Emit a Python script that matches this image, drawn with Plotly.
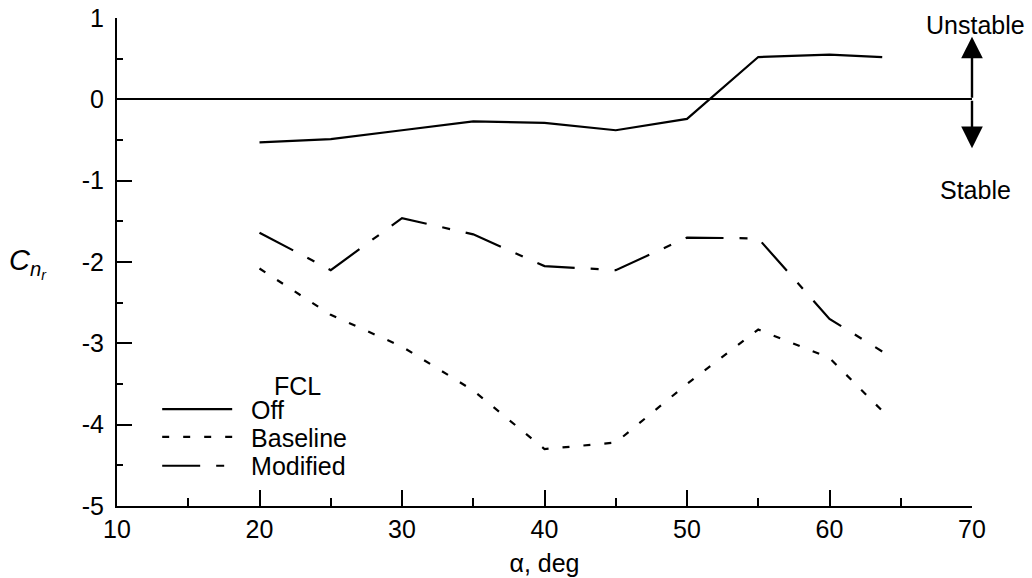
import plotly.graph_objects as go

# Angle of attack, deg
alpha = [20, 25, 30, 35, 40, 45, 50, 55, 60, 63.7]

# Yaw damping derivative Cn_r for each FCL configuration
cnr_off = [-0.53, -0.49, -0.38, -0.27, -0.29, -0.38, -0.24, 0.52, 0.55, 0.52]
cnr_baseline = [-2.08, -2.65, -3.04, -3.58, -4.30, -4.22, -3.50, -2.83, -3.18, -3.83]
cnr_modified = [-1.64, -2.10, -1.46, -1.66, -2.05, -2.10, -1.70, -1.71, -2.70, -3.10]

x_ticks = [10, 20, 30, 40, 50, 60, 70]
y_ticks = [1, 0, -1, -2, -3, -4, -5]
y_tick_text = ["1", "0", "-1", "-2", "-3", "-4", "-5"]

FONT = "Liberation Sans, Arial, Helvetica, sans-serif"
LW = 2.2
PAD = "\u00a0\u00a0"  # gap between legend sample and label

fig = go.Figure()
fig.add_trace(go.Scatter(x=alpha, y=cnr_off, mode="lines", name=PAD + "Off",
                         legend="legend",
                         line=dict(color="black", width=LW)))
fig.add_trace(go.Scatter(x=alpha, y=cnr_baseline, mode="lines", name=PAD + "Baseline",
                         legend="legend2",
                         line=dict(color="black", width=LW, dash="7px,14px")))
fig.add_trace(go.Scatter(x=alpha, y=cnr_modified, mode="lines", name=PAD + "Modified",
                         legend="legend3",
                         line=dict(color="black", width=LW, dash="38px,16px,8px,16px")))

axis_common = dict(
    showline=True, linecolor="black", linewidth=2, mirror=False,
    showgrid=False, ticks="inside", tickcolor="black", tickwidth=2,
    tickfont=dict(family=FONT, size=25, color="black"), automargin=False,
)

fig.update_xaxes(
    range=[10, 70], tickvals=x_ticks, ticklen=16, zeroline=False,
    minor=dict(dtick=5, tick0=10, ticks="inside", ticklen=8, tickwidth=2, tickcolor="black"),
    title=dict(text="\u03b1, deg", font=dict(family=FONT, size=25, color="black"), standoff=12),
    **axis_common,
)
fig.update_yaxes(
    range=[-5, 1], tickvals=y_ticks, ticktext=y_tick_text, ticklen=15, ticklabelstandoff=6,
    zeroline=True, zerolinecolor="black", zerolinewidth=1.6,
    minor=dict(dtick=0.5, tick0=0, ticks="inside", ticklen=6, tickwidth=2, tickcolor="black"),
    **axis_common,
)

# Stability direction arrows at the right end of the zero line
for tip in (0.77, -0.60):
    fig.add_annotation(x=70, y=tip, ax=70, ay=0, xref="x", yref="y", axref="x", ayref="y",
                       text="", showarrow=True, arrowhead=2, arrowsize=1.8, arrowwidth=2.4,
                       arrowcolor="black", standoff=0, startstandoff=0)
fig.add_annotation(x=1.004, y=0.985, xref="paper", yref="paper", text="Unstable",
                   showarrow=False, xanchor="center", yanchor="middle",
                   font=dict(family=FONT, size=25, color="black"))
fig.add_annotation(x=1.004, y=-1.12, xref="paper", yref="y", text="Stable",
                   showarrow=False, xanchor="center", yanchor="middle",
                   font=dict(family=FONT, size=25, color="black"))

# Legend heading
fig.add_annotation(x=22.7, y=-3.52, xref="x", yref="y", text="FCL", showarrow=False,
                   xanchor="center", yanchor="middle",
                   font=dict(family=FONT, size=25, color="black"))

# Y axis title C_{n_r}
fig.add_annotation(
    x=-0.104, y=0.497, xref="paper", yref="paper", xanchor="center", yanchor="middle",
    text="<i>C<sub>n<sub>r</sub></sub></i>", showarrow=False,
    font=dict(family=FONT, size=29, color="black"),
)

# One single-entry legend per row keeps the rows tightly stacked
legend_style = dict(
    x=0.047, xanchor="left", yanchor="middle",
    bgcolor="rgba(0,0,0,0)", borderwidth=0,
    font=dict(family=FONT, size=25, color="black"),
    itemwidth=70,
)

fig.update_layout(
    width=1032, height=578,
    margin=dict(l=117, r=60, t=18, b=72, autoexpand=False),
    paper_bgcolor="white", plot_bgcolor="white",
    showlegend=True,
    legend=dict(y=0.198, **legend_style),
    legend2=dict(y=0.141, **legend_style),
    legend3=dict(y=0.082, **legend_style),
)

fig.write_html("out.html")
